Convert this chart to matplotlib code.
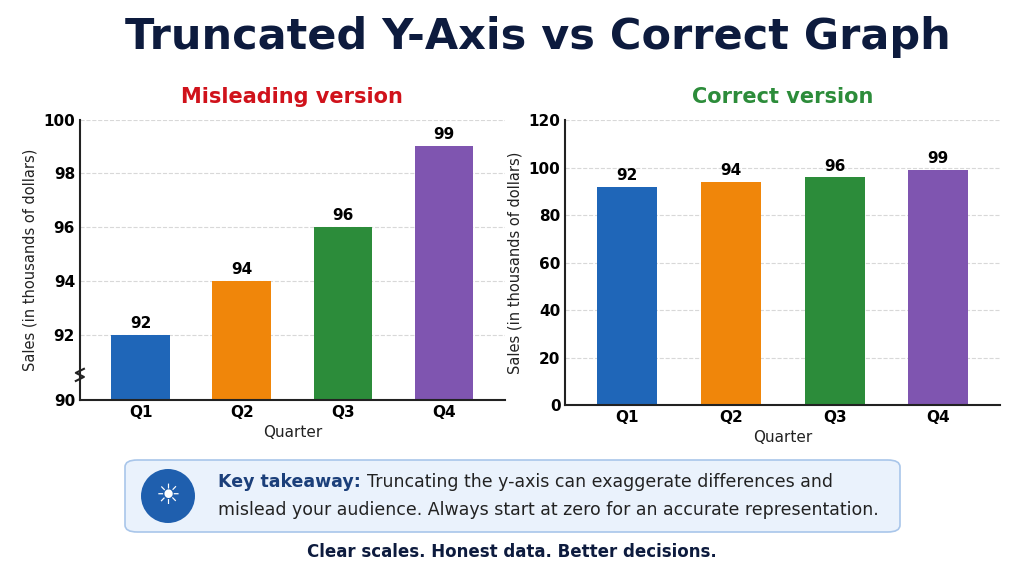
import matplotlib.pyplot as plt
from matplotlib.patches import FancyBboxPatch, Ellipse
import numpy as np

quarters = ['Q1', 'Q2', 'Q3', 'Q4']
sales = [92, 94, 96, 99]
colors = ['#1f66b8', '#f0860a', '#2c8c3a', '#7f55b0']
left_ticks = [92, 94, 96, 98, 100]
right_ticks = [0, 20, 40, 60, 80, 100, 120]

navy = '#0d1b3e'
plt.rcParams['font.family'] = ['DejaVu Sans']

fig = plt.figure(figsize=(10.24, 5.72), dpi=100)
fig.patch.set_facecolor('white')

fig.text(0.525, 0.935, 'Truncated Y-Axis vs Correct Graph', ha='center', va='center',
         fontsize=31, fontweight='bold', color=navy)


def style(ax):
    for s in ['top', 'right']:
        ax.spines[s].set_visible(False)
    for s in ['left', 'bottom']:
        ax.spines[s].set_linewidth(1.5)
        ax.spines[s].set_color('#222222')
    ax.yaxis.grid(True, linestyle='--', color='#d8d8d8', linewidth=0.8)
    ax.set_axisbelow(True)
    ax.tick_params(axis='both', labelsize=11, length=0)
    for lbl in ax.get_xticklabels() + ax.get_yticklabels():
        lbl.set_fontweight('bold')
    ax.set_xlabel('Quarter', fontsize=11, color='#222222')
    ax.set_ylabel('Sales (in thousands of dollars)', fontsize=10.5, color='#222222')


# misleading version
ax1 = fig.add_axes([0.078, 0.301, 0.415, 0.49])
x = np.arange(len(quarters))
bot = 89.6
ax1.bar(x, np.array(sales) - bot, bottom=bot, width=0.58, color=colors)
ax1.set_ylim(bot, 100)
ax1.set_xlim(-0.6, 3.6)
ax1.set_yticks([bot] + left_ticks)
ax1.set_yticklabels(['90'] + [str(t) for t in left_ticks])
ax1.set_xticks(x)
ax1.set_xticklabels(quarters)
style(ax1)
ax1.yaxis.get_gridlines()[0].set_visible(False)
for xi, v in zip(x, sales):
    ax1.text(xi, v + 0.15, str(v), ha='center', va='bottom', fontsize=11, fontweight='bold')
# axis break mark
ax1.plot([-0.64, -0.56, -0.64, -0.56], [90.3, 90.45, 90.6, 90.75], color='#222222',
         lw=1.5, clip_on=False, zorder=5)
ax1.set_title('Misleading version', fontsize=15, fontweight='bold', color='#d0121b', pad=12)

# correct version
ax2 = fig.add_axes([0.552, 0.292, 0.425, 0.498])
ax2.bar(x, sales, width=0.58, color=colors)
ax2.set_ylim(0, 120)
ax2.set_xlim(-0.6, 3.6)
ax2.set_yticks(right_ticks)
ax2.set_xticks(x)
ax2.set_xticklabels(quarters)
style(ax2)
for xi, v in zip(x, sales):
    ax2.text(xi, v + 1.5, str(v), ha='center', va='bottom', fontsize=11, fontweight='bold')
ax2.set_title('Correct version', fontsize=15, fontweight='bold', color='#2c8c3a', pad=12)

# takeaway box
box = FancyBboxPatch((125 / 1024, 1 - 532 / 572), 775 / 1024, 72 / 572,
                     boxstyle='round,pad=0,rounding_size=0.012', transform=fig.transFigure,
                     facecolor='#eaf2fc', edgecolor='#a9c6ea', lw=1.2)
fig.patches.append(box)
fig.patches.append(Ellipse((168 / 1024, 1 - 496 / 572), 54 / 1024, 54 / 572,
                           transform=fig.transFigure, facecolor='#1f5fae', edgecolor='none'))
fig.text(168 / 1024, 1 - 496 / 572, '\u2600', ha='center', va='center', fontsize=20, color='white')
key = fig.text(218 / 1024, 1 - 482 / 572, 'Key takeaway:', ha='left', va='center',
               fontsize=12.5, fontweight='bold', color='#1b3f7a')
fig.canvas.draw()
x_end = key.get_window_extent().x1 / fig.bbox.width
fig.text(x_end + 6 / 1024, 1 - 482 / 572, 'Truncating the y-axis can exaggerate differences and',
         ha='left', va='center', fontsize=12.5, color='#222222')
fig.text(218 / 1024, 1 - 510 / 572,
         'mislead your audience. Always start at zero for an accurate representation.',
         ha='left', va='center', fontsize=12.5, color='#222222')

fig.text(0.5, 1 - 552 / 572, 'Clear scales. Honest data. Better decisions.', ha='center',
         va='center', fontsize=12, fontweight='bold', color=navy)

fig.savefig('out.png', dpi=100)
